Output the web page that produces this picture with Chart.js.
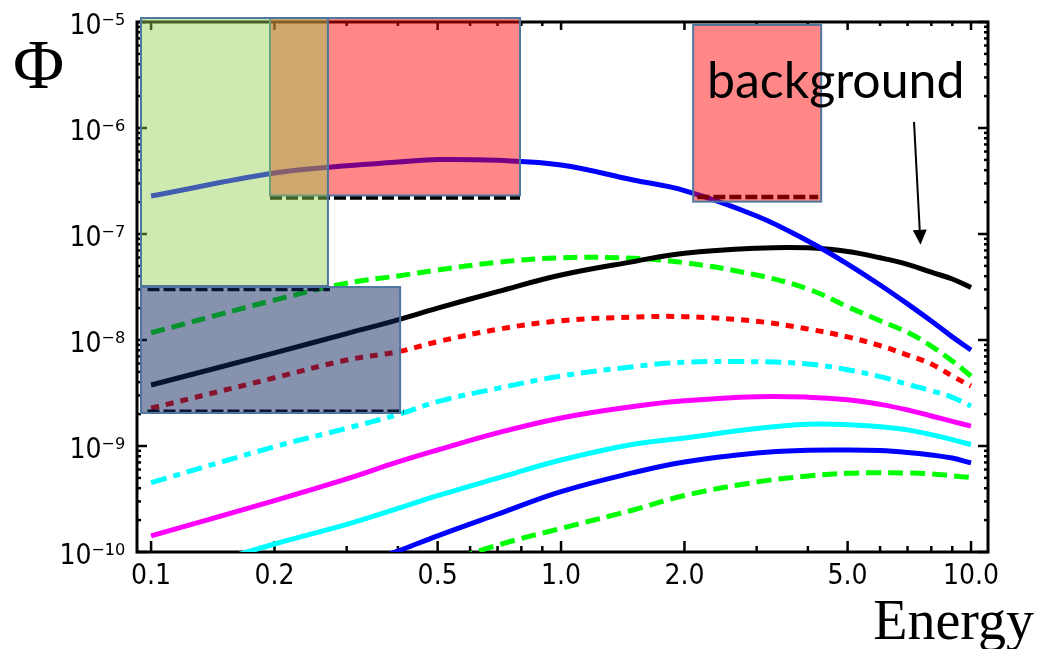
<!DOCTYPE html>
<html>
<head>
<meta charset="utf-8">
<script src="https://cdn.jsdelivr.net/npm/chart.js@4/dist/chart.umd.min.js"></script>
<style>
  html, body { margin: 0; padding: 0; background: #fff; }
</style>
</head>
<body>
<canvas id="chart" width="1038" height="649"></canvas>
<script>

  /*
    ==================================================
    ====================== DATA ======================
    ==================================================
  */

  let energy = [0.1, 0.2, 0.3, 0.4, 0.5, 0.7, 1, 1.5, 2, 3, 4, 5, 6, 7, 8, 9, 10];

  let fluxBlueTop = [2.28e-7, 3.76e-7, 4.41e-7, 4.77e-7, 5.04e-7, 4.95e-7, 4.48e-7, 3.23e-7, 2.57e-7, 1.48e-7, 8.59e-8, 5.21e-8, 3.30e-8, 2.19e-8, 1.51e-8, 1.07e-8, 8.05e-9];
  let fluxBackground = [3.76e-9, 7.57e-9, 1.15e-8, 1.55e-8, 2.0e-8, 2.86e-8, 4.10e-8, 5.49e-8, 6.58e-8, 7.33e-8, 7.40e-8, 6.84e-8, 5.97e-8, 5.18e-8, 4.36e-8, 3.76e-8, 3.13e-8];
  let fluxGreenDashTop = [1.17e-8, 2.38e-8, 3.43e-8, 4.02e-8, 4.57e-8, 5.41e-8, 5.97e-8, 5.90e-8, 5.36e-8, 4.10e-8, 3.03e-8, 2.06e-8, 1.52e-8, 1.18e-8, 8.77e-9, 6.34e-9, 4.57e-9];
  let fluxRedDot = [2.27e-9, 4.40e-9, 6.47e-9, 7.76e-9, 9.64e-9, 1.26e-8, 1.52e-8, 1.64e-8, 1.66e-8, 1.50e-8, 1.27e-8, 1.07e-8, 8.84e-9, 7.21e-9, 5.94e-9, 4.57e-9, 3.68e-9];
  let fluxCyanDashDot = [4.51e-10, 9.84e-10, 1.47e-9, 1.98e-9, 2.62e-9, 3.50e-9, 4.57e-9, 5.60e-9, 6.17e-9, 6.24e-9, 5.94e-9, 5.25e-9, 4.51e-9, 3.82e-9, 3.32e-9, 2.88e-9, 2.38e-9];
  let fluxMagenta = [1.42e-10, 3.05e-10, 4.89e-10, 7.07e-10, 9.17e-10, 1.33e-9, 1.84e-9, 2.36e-9, 2.67e-9, 2.92e-9, 2.89e-9, 2.73e-9, 2.47e-9, 2.19e-9, 1.92e-9, 1.71e-9, 1.54e-9];
  let fluxCyan = [5.3e-11, 1.19e-10, 1.82e-10, 2.58e-10, 3.40e-10, 4.98e-10, 7.38e-10, 1.04e-9, 1.19e-9, 1.46e-9, 1.60e-9, 1.59e-9, 1.52e-9, 1.42e-9, 1.28e-9, 1.15e-9, 1.03e-9];
  let fluxBlueLow = [null, null, 6.83e-11, 1.02e-10, 1.42e-10, 2.27e-10, 3.71e-10, 5.60e-10, 7.07e-10, 8.59e-10, 9.12e-10, 9.17e-10, 9.05e-10, 8.69e-10, 8.22e-10, 7.70e-10, 6.92e-10];
  let fluxGreenDashLow = [null, null, null, null, 7.5e-11, 1.16e-10, 1.67e-10, 2.49e-10, 3.41e-10, 4.57e-10, 5.21e-10, 5.52e-10, 5.60e-10, 5.56e-10, 5.46e-10, 5.24e-10, 5.04e-10];

  // shaded regions (drawn in this order)
  let boxEmin = [0.195, 0.0945, 0.0945, 2.10];
  let boxEmax = [0.794, 0.270, 0.405, 4.31];
  let boxFluxMin = [2.31e-7, 3.23e-8, 2.05e-9, 2.02e-7];
  let boxFluxMax = [1.09e-5, 1.09e-5, 3.16e-8, 9.38e-6];

  // dashed lower limits under each region
  let limitEmin = [0.195, 0.098, 0.098, 2.15];
  let limitEmax = [0.794, 0.273, 0.414, 4.24];
  let limitFlux = [2.21e-7, 3.03e-8, 2.10e-9, 2.23e-7];

  // axis ticks
  let xMajorTicks = [0.1, 0.2, 0.5, 1, 2, 5, 10];
  let xMinorTicks = [0.3, 0.4, 0.6, 0.7, 0.8, 0.9, 3, 4, 6, 7, 8, 9];
  let yDecades = [-10, -9, -8, -7, -6, -5];

  /*
    ==================================================
    ===================== STYLES =====================
    ==================================================
  */

  let boxColors = ['rgba(255, 0, 0, 0.47)', 'rgba(146, 208, 80, 0.45)', 'rgba(16, 37, 94, 0.5)', 'rgba(255, 0, 0, 0.47)'];
  let boxBorder = 'rgb(78, 118, 158)';

  let tickFont = '"Liberation Sans Narrow", "DejaVu Sans Condensed", "Liberation Sans", sans-serif';
  let serifFont = '"Liberation Serif", "DejaVu Serif", serif';

  // annotation anchored in data space
  let noteText = 'background';
  let noteAt = { x: 2.27, y: 1.92e-6 };
  let arrowFrom = { x: 7.26, y: 1.14e-6 };
  let arrowTo = { x: 7.53, y: 7.9e-8 };

  let sup = { '-': '\u207B', '0': '\u2070', '1': '\u00B9', '2': '\u00B2', '3': '\u00B3', '4': '\u2074', '5': '\u2075', '6': '\u2076', '7': '\u2077', '8': '\u2078', '9': '\u2079' };
  let powerLabel = (v) => '10' + String(Math.round(Math.log10(v))).split('').map(c => sup[c]).join('');

  let points = (values) => energy.map((e, i) => ({ x: e, y: values[i] }));

  function curve(values, color, dash) {
    return {
      data: points(values),
      borderColor: color,
      borderWidth: 5,
      borderDash: dash || [],
      pointRadius: 0,
      fill: false,
      tension: 0.4
    };
  }

  let limitSets = limitFlux.map((f, i) => ({
    data: [{ x: limitEmin[i], y: f }, { x: limitEmax[i], y: f }],
    borderColor: '#000',
    borderWidth: 4.5,
    borderDash: [12, 4],
    pointRadius: 0,
    fill: false
  }));

  // first dataset is painted last (on top)
  let datasets = [
    ...limitSets,
    curve(fluxBlueTop, '#0000ff'),
    curve(fluxBackground, '#000000'),
    curve(fluxGreenDashTop, '#00ff00', [14, 7]),
    curve(fluxRedDot, '#ff0000', [8, 7]),
    curve(fluxCyanDashDot, '#00ffff', [16, 7, 7, 7]),
    curve(fluxMagenta, '#ff00ff'),
    curve(fluxCyan, '#00ffff'),
    curve(fluxBlueLow, '#0000ff'),
    curve(fluxGreenDashLow, '#00ff00', [15, 7])
  ];

  /*
    ==================================================
    ==================== PLUGINS =====================
    ==================================================
  */

  let frameTicks = {
    id: 'frameTicks',
    beforeDatasetsDraw(chart) {
      let { ctx, chartArea: a, scales: { x, y } } = chart;
      let line = (x1, y1, x2, y2) => { ctx.beginPath(); ctx.moveTo(x1, y1); ctx.lineTo(x2, y2); ctx.stroke(); };
      ctx.save();
      ctx.strokeStyle = '#000';
      ctx.lineWidth = 2.5;

      xMajorTicks.forEach(v => {
        let px = x.getPixelForValue(v);
        line(px, a.bottom, px, a.bottom - 11);
        line(px, a.top, px, a.top + 8);
      });
      xMinorTicks.forEach(v => {
        let px = x.getPixelForValue(v);
        line(px, a.bottom, px, a.bottom - 6);
        line(px, a.top, px, a.top + 4);
      });
      yDecades.forEach(d => {
        for (let k = 1; k <= 9; k++) {
          let v = k * Math.pow(10, d);
          if (v > y.max * 1.0001) break;
          let py = y.getPixelForValue(v);
          let len = k === 1 ? 10 : 4;
          line(a.left, py, a.left + len, py);
          line(a.right, py, a.right - len, py);
        }
      });

      ctx.lineWidth = 3;
      ctx.strokeRect(a.left, a.top, a.right - a.left, a.bottom - a.top);
      ctx.restore();
    }
  };

  let regions = {
    id: 'regions',
    afterDatasetsDraw(chart) {
      let { ctx, scales: { x, y } } = chart;
      ctx.save();
      boxEmin.forEach((e, i) => {
        let x1 = x.getPixelForValue(e);
        let x2 = x.getPixelForValue(boxEmax[i]);
        let y1 = y.getPixelForValue(boxFluxMax[i]);
        let y2 = y.getPixelForValue(boxFluxMin[i]);
        ctx.fillStyle = boxColors[i];
        ctx.fillRect(x1, y1, x2 - x1, y2 - y1);
        ctx.strokeStyle = boxBorder;
        ctx.lineWidth = 2;
        ctx.strokeRect(x1, y1, x2 - x1, y2 - y1);
      });

      // annotation + arrow
      ctx.fillStyle = '#000';
      ctx.font = '50px Lato, "Open Sans", sans-serif';
      ctx.textAlign = 'left';
      ctx.textBaseline = 'alphabetic';
      ctx.fillText(noteText, x.getPixelForValue(noteAt.x), y.getPixelForValue(noteAt.y));

      let ax1 = x.getPixelForValue(arrowFrom.x), ay1 = y.getPixelForValue(arrowFrom.y);
      let ax2 = x.getPixelForValue(arrowTo.x), ay2 = y.getPixelForValue(arrowTo.y);
      let ang = Math.atan2(ay2 - ay1, ax2 - ax1);
      let head = 15, half = 7;
      let bx = ax2 - head * Math.cos(ang), by = ay2 - head * Math.sin(ang);
      ctx.strokeStyle = '#000';
      ctx.lineWidth = 2;
      ctx.beginPath();
      ctx.moveTo(ax1, ay1);
      ctx.lineTo(bx, by);
      ctx.stroke();
      ctx.beginPath();
      ctx.moveTo(ax2, ay2);
      ctx.lineTo(bx + half * Math.sin(ang), by - half * Math.cos(ang));
      ctx.lineTo(bx - half * Math.sin(ang), by + half * Math.cos(ang));
      ctx.closePath();
      ctx.fill();
      ctx.restore();
    },
    afterDraw(chart) {
      let { ctx } = chart;
      ctx.save();
      ctx.fillStyle = '#000';
      ctx.textBaseline = 'alphabetic';
      ctx.font = '70px ' + serifFont;
      ctx.textAlign = 'left';
      ctx.fillText('\u03A6', 13, 88);
      ctx.font = '56px ' + serifFont;
      ctx.textAlign = 'right';
      ctx.fillText('Energy', 1034, 639);
      ctx.restore();
    }
  };

  /*
    ==================================================
    ===================== CHART ======================
    ==================================================
  */

  new Chart(document.getElementById('chart').getContext('2d'), {
    type: 'line',
    data: { datasets },
    options: {
      responsive: false,
      devicePixelRatio: 1,
      animation: false,
      layout: { padding: { top: 22, right: 50, left: 0, bottom: 0 } },
      plugins: { legend: { display: false }, tooltip: { enabled: false } },
      scales: {
        x: {
          type: 'logarithmic',
          min: 0.0924,
          max: 11.0,
          grid: { display: false, drawTicks: false },
          border: { display: false },
          ticks: {
            autoSkip: false,
            maxRotation: 0,
            padding: 8,
            color: '#000',
            font: { family: tickFont, size: 28 },
            callback: v => Number(v).toFixed(1)
          },
          afterBuildTicks: s => { s.ticks = xMajorTicks.map(v => ({ value: v })); },
          afterFit: s => { s.height = 97; s.paddingLeft = 0; s.paddingRight = 0; }
        },
        y: {
          type: 'logarithmic',
          min: 1e-10,
          max: 1e-5,
          grid: { display: false, drawTicks: false },
          border: { display: false },
          ticks: {
            autoSkip: false,
            padding: 12,
            labelOffset: 5,
            color: '#000',
            font: { family: tickFont, size: 28 },
            callback: v => powerLabel(v)
          },
          afterBuildTicks: s => { s.ticks = yDecades.map(d => ({ value: Math.pow(10, d) })); },
          afterFit: s => { s.width = 137; s.paddingTop = 0; s.paddingBottom = 0; }
        }
      }
    },
    plugins: [frameTicks, regions]
  });

</script>
</body>
</html>
